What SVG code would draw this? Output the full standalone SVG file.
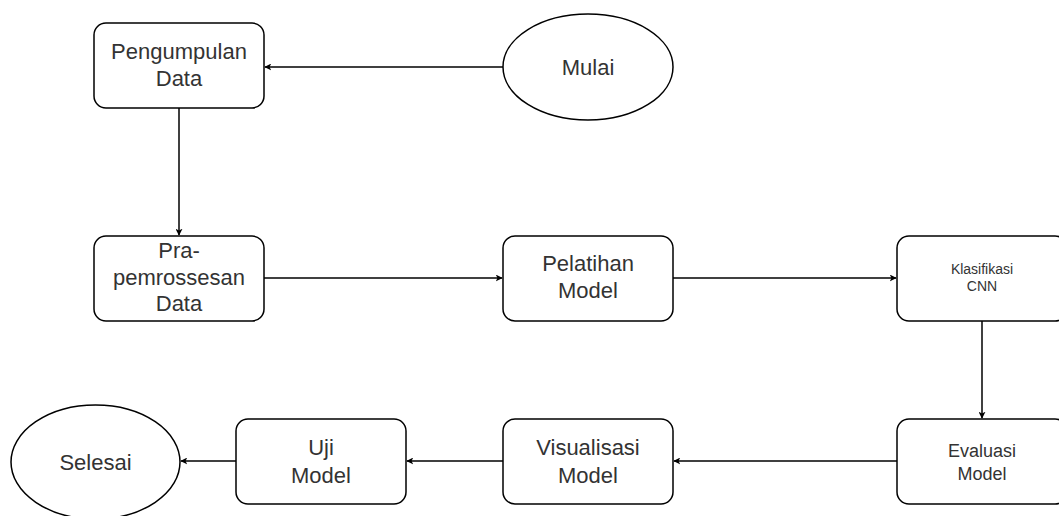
<svg xmlns="http://www.w3.org/2000/svg" width="1059" height="516" viewBox="0 0 1059 516">
<style>
.box{fill:#fff;stroke:#000;stroke-width:1.5}
.t{font-family:"Liberation Sans",Arial,sans-serif;font-size:22px;fill:#333;text-anchor:middle}
.s{font-size:18px}
.xs{font-size:14px}
.c{fill:none;stroke:#000;stroke-width:1.5;marker-end:url(#arr)}
</style>
<defs>
<marker id="arr" viewBox="0 0 10 10" refX="9" refY="5" markerWidth="7" markerHeight="7" orient="auto" markerUnits="userSpaceOnUse">
<path d="M0,0 L10,5 L0,10 L2.5,5 Z" fill="#000"/>
</marker>
</defs>
<rect width="1059" height="516" fill="#fff"/>
<g id="connectors">
<path class="c" d="M503,67 L265,67"/>
<path class="c" d="M179,108 L179,235"/>
<path class="c" d="M264,278 L502,278"/>
<path class="c" d="M673,278 L896,278"/>
<path class="c" d="M982,321 L982,418"/>
<path class="c" d="M897,461 L674,461"/>
<path class="c" d="M503,461 L407,461"/>
<path class="c" d="M236,461 L181,461"/>
</g>
<g id="mulai">
<ellipse class="box" cx="588" cy="67" rx="85" ry="53"/>
<text class="t" x="588" y="75">Mulai</text>
</g>
<g id="pengumpulan">
<rect class="box" x="94" y="23" width="170" height="85" rx="12"/>
<text class="t" x="179" y="59">Pengumpulan</text>
<text class="t" x="179" y="86">Data</text>
</g>
<g id="pra">
<rect class="box" x="94" y="236" width="170" height="85" rx="12"/>
<text class="t" x="179" y="258">Pra-</text>
<text class="t" x="179" y="284.5">pemrossesan</text>
<text class="t" x="179" y="311">Data</text>
</g>
<g id="pelatihan">
<rect class="box" x="503" y="236" width="170" height="85" rx="12"/>
<text class="t" x="588" y="271">Pelatihan</text>
<text class="t" x="588" y="298">Model</text>
</g>
<g id="klasifikasi">
<rect class="box" x="897" y="236" width="170" height="85" rx="12"/>
<text class="t xs" x="982" y="274">Klasifikasi</text>
<text class="t xs" x="982" y="291">CNN</text>
</g>
<g id="evaluasi">
<rect class="box" x="897" y="419" width="170" height="85" rx="12"/>
<text class="t s" x="982" y="457">Evaluasi</text>
<text class="t s" x="982" y="480">Model</text>
</g>
<g id="visualisasi">
<rect class="box" x="503" y="419" width="170" height="85" rx="12"/>
<text class="t" x="588" y="455">Visualisasi</text>
<text class="t" x="588" y="483">Model</text>
</g>
<g id="uji">
<rect class="box" x="236" y="419" width="170" height="85" rx="12"/>
<text class="t" x="321" y="455">Uji</text>
<text class="t" x="321" y="483">Model</text>
</g>
<g id="selesai">
<ellipse class="box" cx="95.5" cy="462" rx="84.5" ry="57"/>
<text class="t" x="95.5" y="470">Selesai</text>
</g>
</svg>
